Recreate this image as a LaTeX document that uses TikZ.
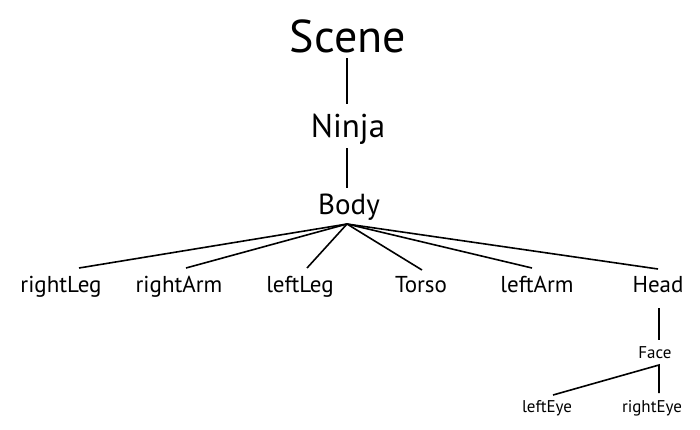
\documentclass[tikz,border=0pt]{standalone}
\usepackage{fontspec}
\setmainfont{PT Sans}
\begin{document}
\begin{tikzpicture}[x=1pt,y=-1pt,
  lbl/.style={anchor=base,inner sep=0pt},
  conn/.style={line width=1.6pt,black},
  fa/.style={font=\fontsize{46}{50}\selectfont},
  fb/.style={font=\fontsize{33}{36}\selectfont},
  fc/.style={font=\fontsize{29}{32}\selectfont},
  fd/.style={font=\fontsize{23}{26}\selectfont},
  fe/.style={font=\fontsize{17}{20}\selectfont}]
\useasboundingbox (0,0) rectangle (700,429);
\node[lbl,fa] (scene) at (348,52) {Scene};
\node[lbl,fb] (ninja) at (348,137) {Ninja};
\node[lbl,fc] (body) at (349,214) {Body};
\node[lbl,fd] (rightLeg) at (61,292) {rightLeg};
\node[lbl,fd] (rightArm) at (179,292) {rightArm};
\node[lbl,fd] (leftLeg) at (300,292) {leftLeg};
\node[lbl,fd] (torso) at (421,292) {Torso};
\node[lbl,fd] (leftArm) at (537,292) {leftArm};
\node[lbl,fd] (head) at (658,292) {Head};
\node[lbl,fe] (face) at (655,358) {Face};
\node[lbl,fe] (leftEye) at (547,412) {leftEye};
\node[lbl,fe] (rightEye) at (652,412) {rightEye};
% connector ends
\coordinate (sceneB) at (347,58);
\coordinate (ninjaT) at (347,104);
\coordinate (ninjaB) at (347,148);
\coordinate (bodyT) at (347,188);
\coordinate (bodyJ) at (347,224);
\coordinate (rightLegT) at (79,268);
\coordinate (rightArmT) at (186,268);
\coordinate (leftLegT) at (307,268);
\coordinate (torsoT) at (422,270);
\coordinate (leftArmT) at (532,268);
\coordinate (headT) at (658,269);
\coordinate (headB) at (659,308);
\coordinate (faceT) at (659,340);
\coordinate (faceB) at (659,365);
\coordinate (leftEyeT) at (553,395);
\coordinate (rightEyeT) at (659,393);
\draw[conn] (sceneB) -- (ninjaT);
\draw[conn] (ninjaB) -- (bodyT);
\foreach \c in {rightLegT,rightArmT,leftLegT,torsoT,leftArmT,headT}
  \draw[conn] (bodyJ) -- (\c);
\draw[conn] (headB) -- (faceT);
\draw[conn] (leftEyeT) -- (faceB) -- (rightEyeT);
\end{tikzpicture}
\end{document}
